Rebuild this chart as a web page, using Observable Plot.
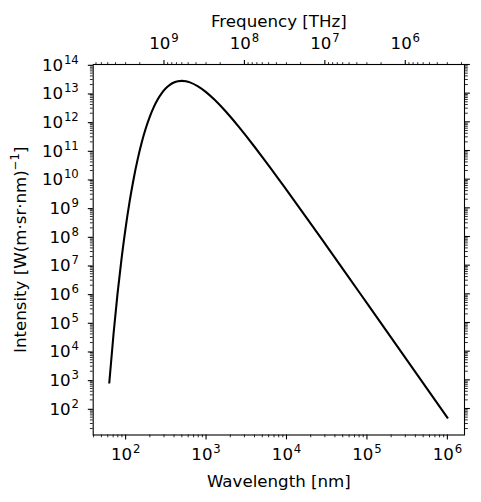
<!DOCTYPE html>
<html>
<head>
<meta charset="utf-8">
<script src="https://cdn.jsdelivr.net/npm/d3@7"></script>
<script src="https://cdn.jsdelivr.net/npm/@observablehq/plot@0.6"></script>
<style>
  html, body { margin: 0; padding: 0; background: #fff; }
  #chart svg { display: block; font-family: "DejaVu Sans", sans-serif; }
</style>
</head>
<body>
<div id="chart"></div>
<script>
// ---- data ----
const wavelengthNm = [62.7, 70.8, 79.4, 89.1, 100, 112.2, 125.9, 141.3, 158.5, 177.8,
  199.5, 223.9, 251.2, 281.8, 316.2, 354.8, 398.1, 446.7, 501.2, 562.3,
  631.0, 794.3, 1000, 1259, 1585, 1995, 2512, 3162, 3981, 5012,
  6310, 7943, 10000, 17783, 31623, 56234, 1e5, 316228, 1e6];
const intensity = [8.1e2, 4.06e4, 1.03e6, 1.73e7, 2.01e8, 1.67e9, 1.04e10, 5.0e10, 1.90e11, 5.85e11,
  1.50e12, 3.27e12, 6.12e12, 1.01e13, 1.48e13, 1.95e13, 2.35e13, 2.61e13, 2.69e13, 2.60e13,
  2.38e13, 1.73e13, 1.09e13, 6.10e12, 3.15e12, 1.53e12, 7.06e11, 3.16e11, 1.38e11, 5.88e10,
  2.47e10, 1.03e10, 4.23e9, 4.48e8, 4.61e7, 4.70e6, 4.74e5, 4.79e3, 48];

// tick values
const wavelengthTicks = [1e2, 1e3, 1e4, 1e5, 1e6];
const frequencyTicks = [1e9, 1e8, 1e7, 1e6];
const intensityTicks = [1e2, 1e3, 1e4, 1e5, 1e6, 1e7, 1e8, 1e9, 1e10, 1e11, 1e12, 1e13, 1e14];
const minorMultiples = [2, 3, 4, 5, 6, 7, 8, 9];

// labels
const xLabel = "Wavelength [nm]";
const topLabel = "Frequency [THz]";
const yLabel = "Intensity [W(m·sr·nm)^{-1}]";

// frequency conversion used by the secondary (top) axis of the reference
const freqTimesWavelength = 2.998e11;

// view limits
const xDomain = [Math.pow(10, 1.597), Math.pow(10, 6.213)];
const yDomain = [Math.pow(10, 1.076), 1e14];

const data = wavelengthNm.map((w, i) => ({w, v: intensity[i]}));

function minors(lo, hi) {
  const out = [];
  for (let n = Math.floor(Math.log10(lo)) - 1; n <= Math.ceil(Math.log10(hi)); n++) {
    for (const k of minorMultiples) {
      const v = k * Math.pow(10, n);
      if (v >= lo && v <= hi) out.push(v);
    }
  }
  return out;
}
const minorX = minors(xDomain[0], xDomain[1]);
const minorY = minors(yDomain[0], yDomain[1]);
const fLo = freqTimesWavelength / xDomain[1], fHi = freqTimesWavelength / xDomain[0];
const minorTopX = minors(fLo, fHi).map(f => freqTimesWavelength / f);
const topTicks = frequencyTicks.map(f => ({w: freqTimesWavelength / f, f}));

const expFmt = d => "10^" + Math.round(Math.log10(d));
const FS = 16.67;
const SUP_FS = FS * 0.7;
const SUP_RISE = 7;

const chart = Plot.plot({
  width: 481,
  height: 502,
  marginLeft: 92.7,
  marginRight: 17,
  marginTop: 64,
  marginBottom: 67.5,
  style: {fontFamily: "DejaVu Sans", fontSize: FS + "px", color: "black", background: "white"},
  x: {type: "log", domain: xDomain},
  y: {type: "log", domain: yDomain},
  marks: [
    // bottom axis
    Plot.axisX({anchor: "bottom", ticks: minorX, tickSize: 2.8, strokeWidth: 0.83, tickFormat: () => "", label: null}),
    Plot.axisX({anchor: "bottom", ticks: wavelengthTicks, tickSize: 4.9, strokeWidth: 1.1, tickPadding: 8.3,
      tickFormat: expFmt, fontSize: FS, label: null}),
    // top (frequency) axis
    Plot.axisX({anchor: "top", ticks: minorTopX, tickSize: 2.8, strokeWidth: 0.83, tickFormat: () => "", label: null}),
    Plot.axisX({anchor: "top", ticks: topTicks.map(d => d.w), tickSize: 4.9, strokeWidth: 1.1, tickFormat: () => "", label: null}),
    Plot.text(topTicks, {x: "w", frameAnchor: "top", dy: -16, lineAnchor: "bottom", text: d => expFmt(d.f), fontSize: FS, fill: "black"}),
    // left axis
    Plot.axisY({anchor: "left", ticks: minorY, tickSize: 2.8, strokeWidth: 0.83, tickFormat: () => "", label: null}),
    Plot.axisY({anchor: "left", ticks: intensityTicks, tickSize: 4.9, strokeWidth: 1.1, tickPadding: 9.5,
      tickFormat: expFmt, fontSize: FS, dy: 0.8, label: null}),
    // right axis (ticks only)
    Plot.axisY({anchor: "right", ticks: minorY, tickSize: 2.8, strokeWidth: 0.83, tickFormat: () => "", label: null}),
    Plot.axisY({anchor: "right", ticks: intensityTicks, tickSize: 4.9, strokeWidth: 1.1, tickFormat: () => "", label: null}),
    Plot.frame({stroke: "black", strokeWidth: 1.1}),
    // curve
    Plot.line(data, {x: "w", y: "v", stroke: "black", strokeWidth: 2.08, curve: "monotone-x", strokeLinecap: "square"}),
    // axis labels
    Plot.text([xLabel], {frameAnchor: "bottom", dy: 51.5, lineAnchor: "bottom", textAnchor: "middle", fontSize: FS, fill: "black"}),
    Plot.text([topLabel], {frameAnchor: "top", dy: -37.3, lineAnchor: "bottom", textAnchor: "middle", fontSize: FS, fill: "black"}),
    Plot.text([yLabel], {frameAnchor: "left", dx: -67.2, rotate: -90, lineAnchor: "bottom", textAnchor: "middle", fontSize: FS, fill: "black"})
  ]
});

// render exponents as superscripts (as matplotlib mathtext does)
const NS = "http://www.w3.org/2000/svg";
chart.querySelectorAll("text").forEach(t => {
  const s = t.textContent;
  let m = s.match(/^10\^(-?\d+)$/);
  if (m) {
    t.textContent = "10";
    const sup = document.createElementNS(NS, "tspan");
    sup.setAttribute("font-size", SUP_FS.toFixed(2));
    sup.setAttribute("dy", String(-SUP_RISE));
    sup.setAttribute("dx", "0.8");
    sup.textContent = m[1];
    t.appendChild(sup);
    return;
  }
  m = s.match(/^(.*)\^\{(.+)\}(.*)$/);
  if (m) {
    t.textContent = m[1];
    const sup = document.createElementNS(NS, "tspan");
    sup.setAttribute("font-size", SUP_FS.toFixed(2));
    sup.setAttribute("dy", String(-SUP_RISE));
    sup.textContent = m[2].replace("-", "\u2212");
    t.appendChild(sup);
    const rest = document.createElementNS(NS, "tspan");
    rest.setAttribute("dy", String(SUP_RISE));
    rest.textContent = m[3];
    t.appendChild(rest);
  }
});

document.getElementById("chart").appendChild(chart);
</script>
</body>
</html>
